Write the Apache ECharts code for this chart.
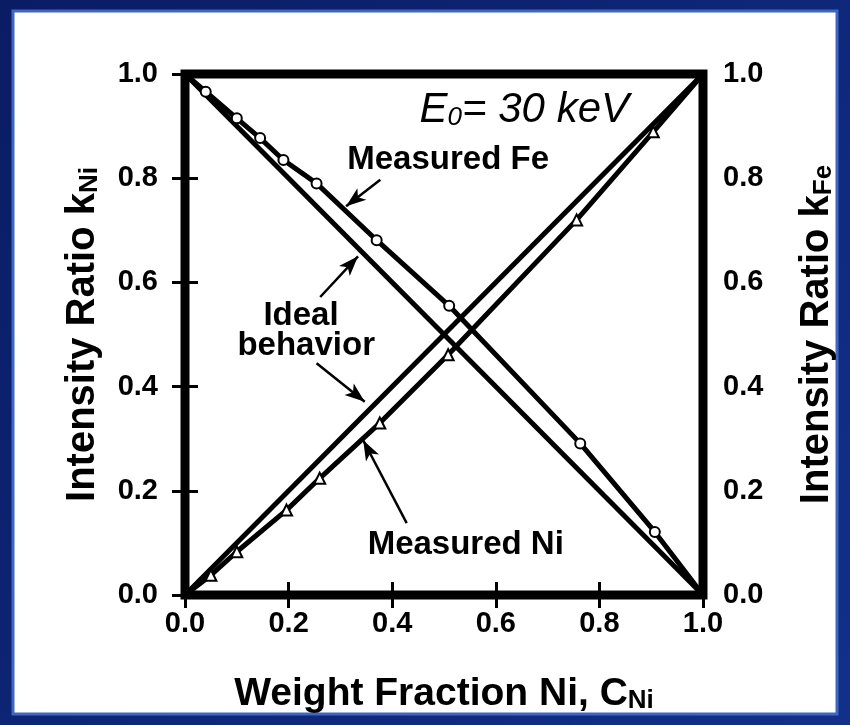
<!DOCTYPE html>
<html>
<head>
<meta charset="utf-8">
<script src="https://cdn.jsdelivr.net/npm/echarts@6/dist/echarts.min.js"></script>
<style>
  html, body { margin: 0; padding: 0; background: #0c2272; }
  #chart { width: 850px; height: 725px; }
</style>
</head>
<body>
<div id="chart"></div>
<script>
// Tick values shared by all four sides of the frame
const tickValues = [0.0, 0.2, 0.4, 0.6, 0.8, 1.0];

// Ideal (linear) behaviour
const idealNiC = [0.0, 1.0];
const idealNiK = [0.0, 1.0];
const idealFeC = [0.0, 1.0];
const idealFeK = [1.0, 0.0];

// Measured Fe intensity ratio (circles)
const feC = [0.04, 0.10, 0.145, 0.19, 0.254, 0.37, 0.51, 0.763, 0.907];
const feK = [0.966, 0.915, 0.877, 0.835, 0.790, 0.681, 0.555, 0.291, 0.121];

// Measured Ni intensity ratio (triangles)
const niC = [0.05, 0.10, 0.196, 0.26, 0.376, 0.508, 0.756, 0.904];
const niK = [0.038, 0.083, 0.163, 0.224, 0.330, 0.461, 0.720, 0.889];

const zip = (xs, ys) => xs.map((x, i) => [x, ys[i]]);
// measured curves start and end on the pure-element values
const feCurve = [[0, 1]].concat(zip(feC, feK), [[1, 0]]);
const niCurve = [[0, 0]].concat(zip(niC, niK), [[1, 1]]);

const FONT = 'Liberation Sans';
const tickLabel = {
  fontFamily: FONT, fontWeight: 'bold', fontSize: 29, color: '#000',
  formatter: v => v.toFixed(1)
};
const tickStyle = { inside: true, length: 13, lineStyle: { color: '#000', width: 3 } };

const chart = echarts.init(document.getElementById('chart'));

function axisName(main, sub) {
  return '{a|' + main + '}{s|' + sub + '}';
}
function nameRich(size) {
  return {
    a: { fontFamily: FONT, fontWeight: 'bold', fontSize: size, color: '#000', lineHeight: size + 6, verticalAlign: 'bottom' },
    s: { fontFamily: FONT, fontWeight: 'bold', fontSize: Math.round(size * 0.66), color: '#000', lineHeight: 12, verticalAlign: 'bottom' }
  };
}

const option = {
  animation: false,
  backgroundColor: {
    type: 'linear', x: 0, y: 0, x2: 1, y2: 1,
    colorStops: [{ offset: 0, color: '#0a1c64' }, { offset: 1, color: '#12308a' }]
  },
  graphic: [{
    type: 'rect', z: -10,
    shape: { x: 13, y: 11, width: 824, height: 703 },
    style: { fill: '#ffffff', stroke: '#3f67c0', lineWidth: 3 }
  }],
  grid: {
    left: 185, right: 147, top: 74, bottom: 130,
    show: true, borderColor: '#000', borderWidth: 9, backgroundColor: '#fff'
  },
  xAxis: [{
    type: 'value', min: 0, max: 1, interval: 0.2, position: 'bottom',
    axisLine: { show: false }, splitLine: { show: false },
    axisTick: tickStyle,
    axisLabel: Object.assign({ margin: 14 }, tickLabel),
    name: axisName('Weight Fraction Ni, C', 'Ni'),
    nameLocation: 'middle', nameGap: 74,
    nameTextStyle: { rich: nameRich(39) }
  }, {
    type: 'value', min: 0, max: 1, interval: 0.2, position: 'top',
    axisLine: { show: false }, splitLine: { show: false },
    axisTick: tickStyle, axisLabel: { show: false }
  }],
  yAxis: [{
    type: 'value', min: 0, max: 1, interval: 0.2, position: 'left',
    axisLine: { show: false }, splitLine: { show: false },
    axisTick: tickStyle,
    axisLabel: Object.assign({ margin: 27 }, tickLabel),
    name: axisName('Intensity Ratio k', 'Ni'),
    nameLocation: 'middle', nameGap: 82, nameRotate: 90,
    nameTextStyle: { rich: nameRich(40) }
  }, {
    type: 'value', min: 0, max: 1, interval: 0.2, position: 'right',
    axisLine: { show: false }, splitLine: { show: false },
    axisTick: tickStyle,
    axisLabel: Object.assign({ margin: 20 }, tickLabel),
    name: axisName('Intensity Ratio k', 'Fe'),
    nameLocation: 'middle', nameGap: 88, nameRotate: 90,
    nameTextStyle: { rich: nameRich(40) }
  }],
  series: [
    {
      name: 'Ideal Ni', type: 'line', showSymbol: false, z: 3,
      data: zip(idealNiC, idealNiK),
      lineStyle: { color: '#000', width: 5 }
    },
    {
      name: 'Ideal Fe', type: 'line', showSymbol: false, z: 3,
      data: zip(idealFeC, idealFeK),
      lineStyle: { color: '#000', width: 5 }
    },
    {
      name: 'Measured Fe curve', type: 'line', showSymbol: false, z: 3,
      data: feCurve, lineStyle: { color: '#000', width: 5 },
      markLine: {
        silent: true, symbol: ['none', 'arrow'], symbolSize: [11, 20],
        label: { show: false },
        lineStyle: { color: '#000', width: 2.5, type: 'solid' },
        data: [
          [{ coord: [0.377, 0.797] }, { coord: [0.311, 0.746] }],
          [{ coord: [0.261, 0.572] }, { coord: [0.334, 0.650] }],
          [{ coord: [0.254, 0.445] }, { coord: [0.347, 0.371] }],
          [{ coord: [0.428, 0.138] }, { coord: [0.344, 0.297] }]
        ]
      }
    },
    {
      name: 'Measured Ni curve', type: 'line', showSymbol: false, z: 3,
      data: niCurve, lineStyle: { color: '#000', width: 5 }
    },
    {
      name: 'Measured Fe', type: 'scatter', z: 5,
      data: zip(feC, feK), symbol: 'circle', symbolSize: 10,
      itemStyle: { color: '#fff', borderColor: '#000', borderWidth: 2, opacity: 1 }
    },
    {
      name: 'Measured Ni', type: 'scatter', z: 5,
      data: zip(niC, niK), symbol: 'triangle', symbolSize: 11,
      itemStyle: { color: '#fff', borderColor: '#000', borderWidth: 2, opacity: 1 }
    }
  ]
};
chart.setOption(option);

// Text annotations placed in data coordinates
const notes = [
  { at: [0.655, 0.933], rich: true, text: '{e|E}{s|0}{e|= 30 keV}' },
  { at: [0.508, 0.835], text: 'Measured Fe' },
  { at: [0.224, 0.536], text: 'Ideal' },
  { at: [0.234, 0.478], text: 'behavior' },
  { at: [0.542, 0.096], text: 'Measured Ni' }
];
const g = notes.map(n => {
  const p = chart.convertToPixel({ gridIndex: 0 }, n.at);
  const style = n.rich ? {
    text: n.text, x: p[0], y: p[1], align: 'center', verticalAlign: 'middle',
    rich: {
      e: { fontFamily: FONT, fontStyle: 'italic', fontSize: 42, color: '#000', lineHeight: 44, verticalAlign: 'bottom' },
      s: { fontFamily: FONT, fontStyle: 'italic', fontSize: 26, color: '#000', lineHeight: 18, verticalAlign: 'bottom' }
    }
  } : {
    text: n.text, x: p[0], y: p[1], align: 'center', verticalAlign: 'middle',
    fontFamily: FONT, fontWeight: 'bold', fontSize: 33, fill: '#000'
  };
  return { type: 'text', z: 10, style: style };
});
chart.setOption({ graphic: option.graphic.concat(g) });
</script>
</body>
</html>
